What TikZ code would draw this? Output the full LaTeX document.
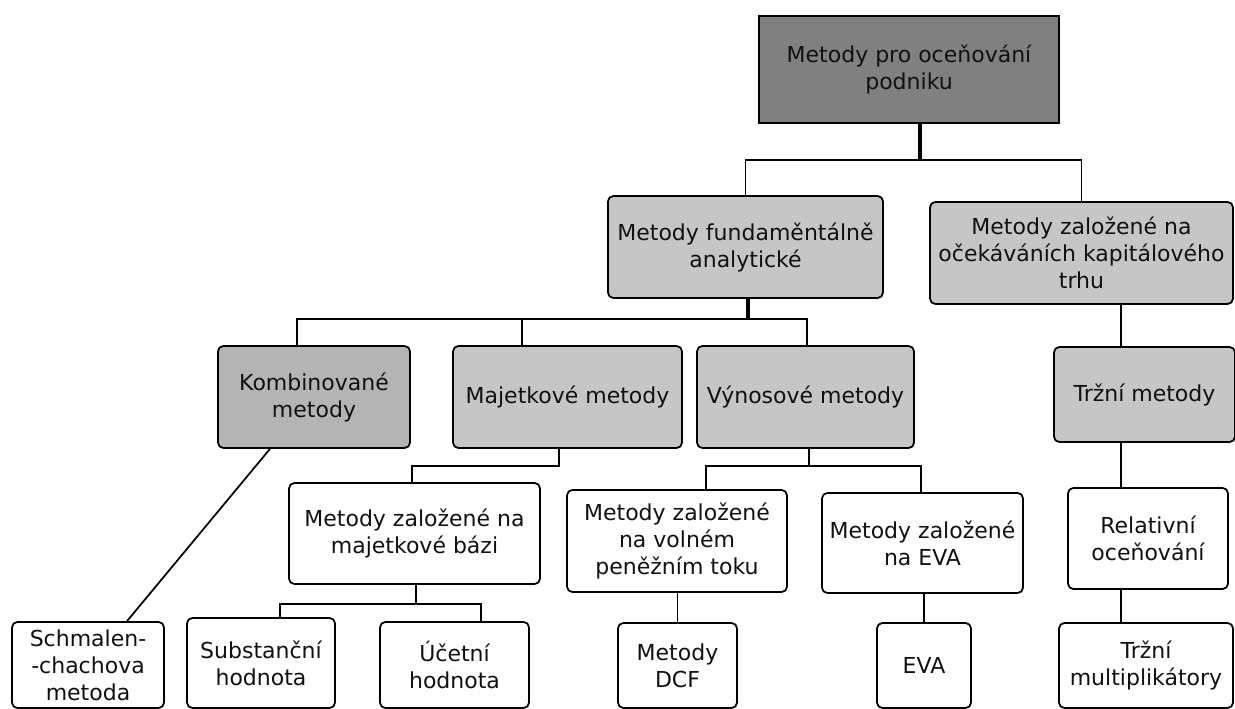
\documentclass[tikz,border=0pt]{standalone}
\usepackage{fontspec}
\setmainfont{DejaVu Sans}
\definecolor{rootgray}{HTML}{808080}
\definecolor{boxgray}{HTML}{C6C6C6}
\definecolor{kombgray}{HTML}{B4B4B4}
\definecolor{txtgray}{HTML}{111111}

\begin{document}
\begin{tikzpicture}[x=0.75pt,y=-0.75pt,every node/.style={font=\fontsize{16.5}{20.25}\selectfont,text=txtgray,align=center,inner sep=0pt},box/.style={draw=black,line width=1.3pt,rounded corners=4pt,fill=white},graybox/.style={box,fill=boxgray},link/.style={line width=1.3pt},stem/.style={line width=2.4pt}]
\useasboundingbox (0,0) rectangle (1235,709);
% top levels
\node[draw=black,line width=1.3pt,fill=rootgray,minimum width=225pt,minimum height=80.25pt] (root) at (909,69.5) {Metody pro oceňování\\podniku};
\node[graybox,minimum width=206.25pt,minimum height=76.5pt] (fund) at (745.5,247) {Metody fundaměntálně\\analytické};
\node[graybox,minimum width=227.25pt,minimum height=76.5pt] (kap) at (1081.5,253) {Metody založené na\\očekáváních kapitálového\\trhu};
\node[box,fill=kombgray,minimum width=144pt,minimum height=76.5pt] (komb) at (314,397) {Kombinované\\metody};
\node[graybox,minimum width=171.75pt,minimum height=76.5pt] (maj) at (567.5,397) {Majetkové metody};
\node[graybox,minimum width=162.75pt,minimum height=76.5pt] (vyn) at (805.5,397) {Výnosové metody};
\node[graybox,minimum width=135.75pt,minimum height=71.25pt] (trzni) at (1144.5,394.5) {Tržní metody};
% third level
\node[box,minimum width=188.25pt,minimum height=75.75pt] (baze) at (414.5,533.5) {Metody založené na\\majetkové bázi};
\node[box,minimum width=165pt,minimum height=76.5pt] (volny) at (677,541) {Metody založené\\na volném\\peněžním toku};
\node[box,minimum width=150.75pt,minimum height=75pt] (evab) at (922.5,543) {Metody založené\\na EVA};
\node[box,minimum width=120pt,minimum height=75.75pt] (rel) at (1148,538.5) {Relativní\\oceňování};
% leaves
\node[box,minimum width=114pt,minimum height=64.5pt] (schm) at (88,665) {Schmalen-\\-chachova\\metoda};
\node[box,minimum width=111pt,minimum height=67.5pt] (subst) at (261,663) {Substanční\\hodnota};
\node[box,minimum width=111.75pt,minimum height=64.5pt] (ucet) at (454.5,665) {Účetní\\hodnota};
\node[box,minimum width=89.25pt,minimum height=63.75pt] (dcf) at (677.5,665.5) {Metody\\DCF};
\node[box,minimum width=70.5pt,minimum height=63.75pt] (eva) at (924,665.5) {EVA};
\node[box,minimum width=130.5pt,minimum height=63.75pt] (mult) at (1146,665.5) {Tržní\\multiplikátory};
% junction points
\coordinate (rb) at (920,160);\coordinate (fb) at (748,319);\coordinate (kd) at (297,319);\coordinate (md) at (522,319);\coordinate (vd) at (807,319);
\coordinate (ks) at (270,448);\coordinate (st) at (127,622);
\coordinate (mj) at (559,466);\coordinate (bz) at (412,466);
\coordinate (bs) at (416,604);\coordinate (sd) at (280,604);\coordinate (ud) at (481,604);
\coordinate (vs) at (809,466);\coordinate (vl) at (706,466);\coordinate (ve) at (921,466);
\coordinate (ts) at (1121,0);
% connectors
\draw[stem] (root.south -| rb) -- (rb);\draw[link] (fund.north) |- (kap.north |- rb) -- (kap.north);
\draw[stem] (fund.south -| fb) -- (fb);\draw[link] (komb.north -| kd) |- (vd) -- (vyn.north -| vd);\draw[link] (md) -- (maj.north -| md);
\draw[link] (komb.south -| ks) -- (schm.north -| st);
\draw[link] (maj.south -| mj) -- (mj) -- (bz) -- (baze.north -| bz);
\draw[link] (baze.south -| bs) -- (bs);\draw[link] (subst.north -| sd) |- (ud) -- (ucet.north -| ud);
\draw[link] (vyn.south -| vs) -- (vs);\draw[link] (volny.north -| vl) |- (ve) -- (evab.north -| ve);
\draw[link] (dcf.north |- volny.south) -- (dcf.north);\draw[link] (eva.north |- evab.south) -- (eva.north);
\draw[link] (kap.south -| ts) -- (trzni.north -| ts);\draw[link] (trzni.south -| ts) -- (rel.north -| ts);\draw[link] (rel.south -| ts) -- (mult.north -| ts);
\end{tikzpicture}
\end{document}
